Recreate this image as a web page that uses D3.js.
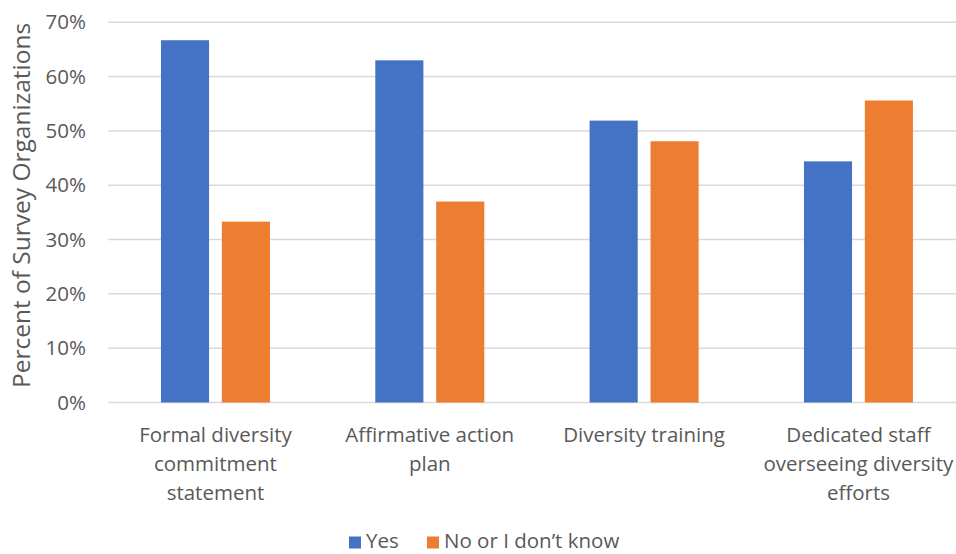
<!DOCTYPE html>
<html><head><meta charset="utf-8">
<script src="https://cdn.jsdelivr.net/npm/d3@7"></script>
<style>body{margin:0;background:#fff;} svg{display:block;font-family:"Open Sans",sans-serif;}</style>
</head><body><svg id="c" width="956" height="554"></svg>
<script>
const categories = [
  ["Formal diversity","commitment","statement"],
  ["Affirmative action","plan"],
  ["Diversity training"],
  ["Dedicated staff","overseeing diversity","efforts"]
];
const seriesNames = ["Yes","No or I don\u2019t know"];
const yesValues = [66.7, 63.0, 51.9, 44.4];
const noValues = [33.3, 37.0, 48.1, 55.6];
const yTicks = [0,10,20,30,40,50,60,70];
const colors = ["#4472C4","#ED7D31"];
const FS = 20.5;

const svg = d3.select("#c");
const x = d3.scaleBand().domain(d3.range(categories.length)).range([108.3, 965.6]).paddingInner(0).paddingOuter(0);
const y = d3.scaleLinear().domain([0,70]).range([402.5, 22.3]);
const xs = d3.scaleBand().domain([0,1]).range([0,109]).paddingInner(0.21);

svg.append("g").selectAll("line").data(yTicks).join("line")
  .attr("x1",108.3).attr("x2",956).attr("y1",d=>y(d)).attr("y2",d=>y(d))
  .attr("stroke","#d9d9d9").attr("stroke-width",1.5);

const yAxis = d3.axisLeft(y).tickValues(yTicks).tickFormat(d=>d+"%").tickSize(0).tickPadding(0);
const ga = svg.append("g").attr("transform","translate(86,0)").call(yAxis);
ga.select(".domain").remove();
ga.selectAll("text").attr("fill","#595959").attr("font-size",FS).attr("font-family","'Open Sans',sans-serif");

const data = categories.map((c,i)=>[yesValues[i], noValues[i]]);
const groups = svg.append("g").selectAll("g").data(data).join("g")
  .attr("transform",(d,i)=>`translate(${x(i)+x.bandwidth()/2-54.5},0)`);
groups.selectAll("rect").data(d=>d).join("rect")
  .attr("x",(d,j)=>xs(j)).attr("width",xs.bandwidth())
  .attr("y",d=>y(d)).attr("height",d=>y(0)-y(d))
  .attr("fill",(d,j)=>colors[j]);

const cl = svg.append("g").selectAll("text").data(categories).join("text")
  .attr("x",(d,i)=>x(i)+x.bandwidth()/2).attr("y",442)
  .attr("text-anchor","middle").attr("fill","#595959").attr("font-size",FS);
cl.selectAll("tspan").data(d=>d).join("tspan")
  .attr("x",function(){return d3.select(this.parentNode).attr("x");})
  .attr("dy",(d,k)=>k===0?0:29).text(d=>d);

svg.append("text").attr("transform","translate(30,205.5) rotate(-90)")
  .attr("text-anchor","middle").attr("fill","#595959").attr("font-size",24.5)
  .text("Percent of Survey Organizations");

const leg = svg.append("g");
const lx = [349, 427];
seriesNames.forEach((n,i)=>{
  leg.append("rect").attr("x",lx[i]).attr("y",536.5).attr("width",12).attr("height",12).attr("fill",colors[i]);
  leg.append("text").attr("x",lx[i]+17).attr("y",548).attr("fill","#595959").attr("font-size",FS).text(n);
});
</script></body></html>
